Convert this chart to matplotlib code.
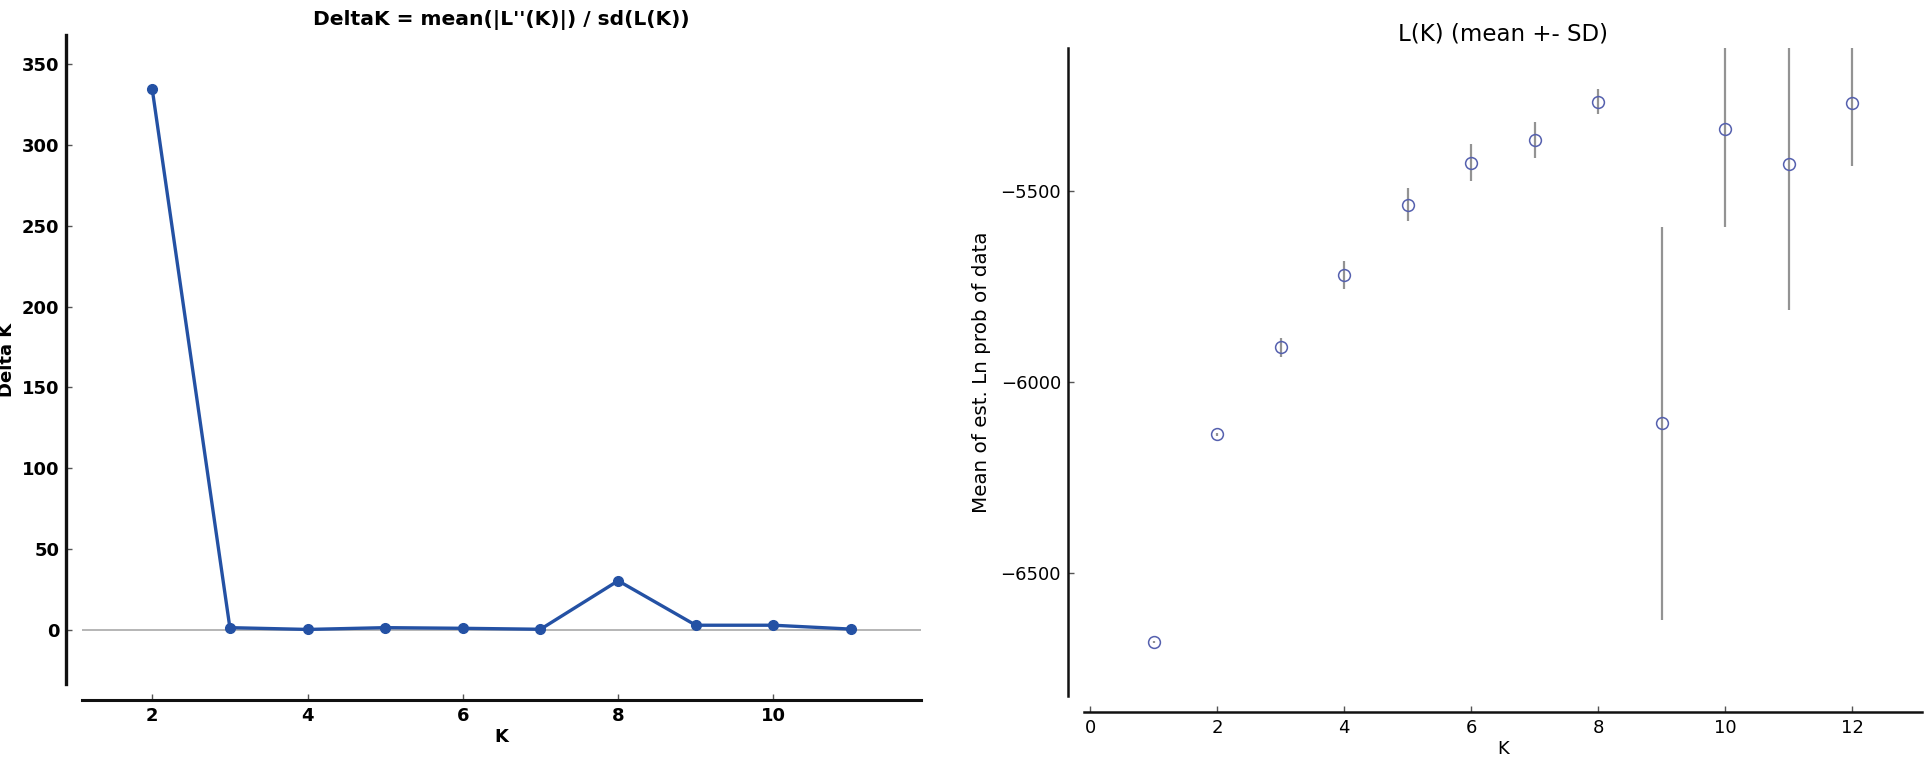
import matplotlib

matplotlib.use("Agg")
import matplotlib.pyplot as plt
import numpy as np

# Evanno table: DeltaK for K = 2..11
delta_k_values = [2, 3, 4, 5, 6, 7, 8, 9, 10, 11]
delta_k = [334.5, 1.4, 0.3, 1.4, 1.0, 0.4, 30.4, 2.9, 2.9, 0.5]

# mean and SD of the estimated Ln prob of data, K = 1..12
lk_values = [1, 2, 3, 4, 5, 6, 7, 8, 9, 10, 11, 12]
lk_mean = [-6679, -6136, -5909, -5720, -5537, -5427, -5367, -5268,
           -6108, -5340, -5430, -5272]
lk_sd = [3, 4, 25, 36, 43, 48, 47, 32, 514, 255, 381, 165]

LINE_BLUE = "#2451a4"
CIRCLE_BLUE = "#5560ae"
OFFSET = 11.5  # points, spines pushed outward


def style_axes(ax, weight):
    for side in ("top", "right"):
        ax.spines[side].set_visible(False)
    for side in ("left", "bottom"):
        ax.spines[side].set_position(("outward", OFFSET))
        ax.spines[side].set_color("#111111")
    ax.tick_params(direction="in", length=4, width=1, color="#555555",
                   labelsize=13, pad=5)
    for lab in ax.get_xticklabels() + ax.get_yticklabels():
        lab.set_fontweight(weight)


fig = plt.figure(figsize=(19.28, 7.6), dpi=100)

# left panel: DeltaK
ax1 = fig.add_axes([0.0427, 0.1, 0.435, 0.854])
ax1.axhline(0, color="#b0b0b0", lw=1.3, zorder=1)
ax1.plot(delta_k_values, delta_k, "-o", color=LINE_BLUE, lw=2.4,
         markersize=7, zorder=3)
ax1.margins(x=0.1, y=0.1)
ax1.set_xticks([2, 4, 6, 8, 10])
ax1.set_yticks(np.arange(0, 351, 50))
ax1.spines["left"].set_linewidth(2.4)
ax1.spines["bottom"].set_linewidth(2.2)
style_axes(ax1, "bold")
ax1.set_xlabel("K", fontsize=13, fontweight="bold", labelpad=2)
ax1.set_ylabel("Delta K", fontsize=13, fontweight="bold", labelpad=4)
ax1.set_title("DeltaK = mean(|L''(K)|) / sd(L(K))", fontsize=14.6,
              fontweight="bold", pad=7)

# right panel: L(K) mean +- SD
ax2 = fig.add_axes([0.5622, 0.0842, 0.4348, 0.853])
ax2.errorbar(lk_values, lk_mean, yerr=lk_sd, fmt="none", ecolor="#939393",
             elinewidth=1.6, zorder=1)
ax2.plot(lk_values, lk_mean, "o", mfc="none", mec=CIRCLE_BLUE, mew=1.1,
         markersize=8.5, zorder=3)
lo, hi = min(lk_mean), max(lk_mean)
pad = 0.1 * (hi - lo)
ax2.set_ylim(lo - pad, hi + pad)
xl, xh = min(lk_values), max(lk_values)
ax2.set_xlim(xl - 0.1 * (xh - xl), xh + 0.1 * (xh - xl))
ax2.set_xticks(np.arange(0, 13, 2))
ax2.set_yticks([-6500, -6000, -5500])
ax2.spines["left"].set_linewidth(1.8)
ax2.spines["bottom"].set_linewidth(1.8)
style_axes(ax2, "normal")
ax2.set_xlabel("K", fontsize=13, labelpad=2)
ax2.set_ylabel("Mean of est. Ln prob of data", fontsize=14.3, labelpad=7)
ax2.set_title("L(K) (mean +- SD)", fontsize=16.5, pad=5)

fig.savefig("out.png", dpi=100)
